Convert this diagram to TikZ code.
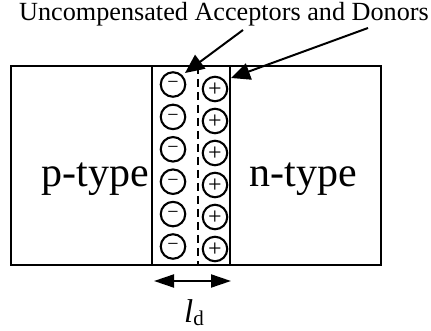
\documentclass[tikz,border=0pt]{standalone}
\usepackage{fontspec}
\setmainfont{Liberation Serif}
\usetikzlibrary{arrows.meta}
\tikzset{
  box/.style={draw, line width=2.4pt},
  chg/.style={circle, draw, line width=2.1pt, minimum size=24.5pt, inner sep=0pt},
  signm/.style={anchor=base, inner sep=0pt, font=\fontsize{20}{20}\selectfont},
  signp/.style={anchor=base, inner sep=0pt, font=\fontsize{24}{24}\selectfont},
  ptr/.style={line width=2pt, -{Triangle[length=19pt, width=17pt]}},
  dim/.style={line width=2pt, {Triangle[length=20pt, width=13pt]}-{Triangle[length=20pt, width=13pt]}},
  lbl/.style={anchor=base, inner sep=0pt, font=\fontsize{42}{48}\selectfont}
}
\begin{document}
\begin{tikzpicture}[x=1pt, y=-1pt]
\useasboundingbox[fill=white] (0,0) rectangle (431,331);
% title
\node[anchor=base, inner sep=0pt, font=\fontsize{26.2}{28}\selectfont] (title) at (224,21) {Uncompensated Acceptors and Donors};
% regions
\draw[box] (11,66) rectangle (381,265);
\draw[box] (152,66) rectangle (230,265);
\coordinate (dtop) at (198,66);
\coordinate (dbot) at (198,265);
\draw[line width=1.8pt, dash pattern=on 8pt off 5pt] (dtop) -- (dbot);
\node[lbl] (ptype) at (95,187) {p-type};
\node[lbl] (ntype) at (303,187) {n-type};
% charges
\foreach \k in {0,...,5}{
  \pgfmathsetmacro{\ym}{84.5+32.4*\k}
  \pgfmathsetmacro{\yp}{89+32*\k}
  \node[chg] (m\k) at (173,\ym) {};
  \node[signm] (ms\k) at (173,\ym+4.5) {−};
  \node[chg] (p\k) at (215,\yp) {};
  \node[signp] (ps\k) at (215,\yp+7.5) {+};
}
% pointer arrows
\coordinate (a1s) at (243,30);
\coordinate (a1e) at (185,73);
\coordinate (a2s) at (368,28);
\coordinate (a2e) at (231,78);
\draw[ptr] (a1s) -- (a1e);
\draw[ptr] (a2s) -- (a2e);
% dimension
\coordinate (dl) at (154,281);
\coordinate (dr) at (231,281);
\draw[dim] (dl) -- (dr);
\node[anchor=base, inner sep=0pt] (ld) at (194,322) {\fontsize{33}{34}\selectfont\textit{l}\raisebox{-3pt}{\fontsize{21}{22}\selectfont d}};
\end{tikzpicture}
\end{document}
